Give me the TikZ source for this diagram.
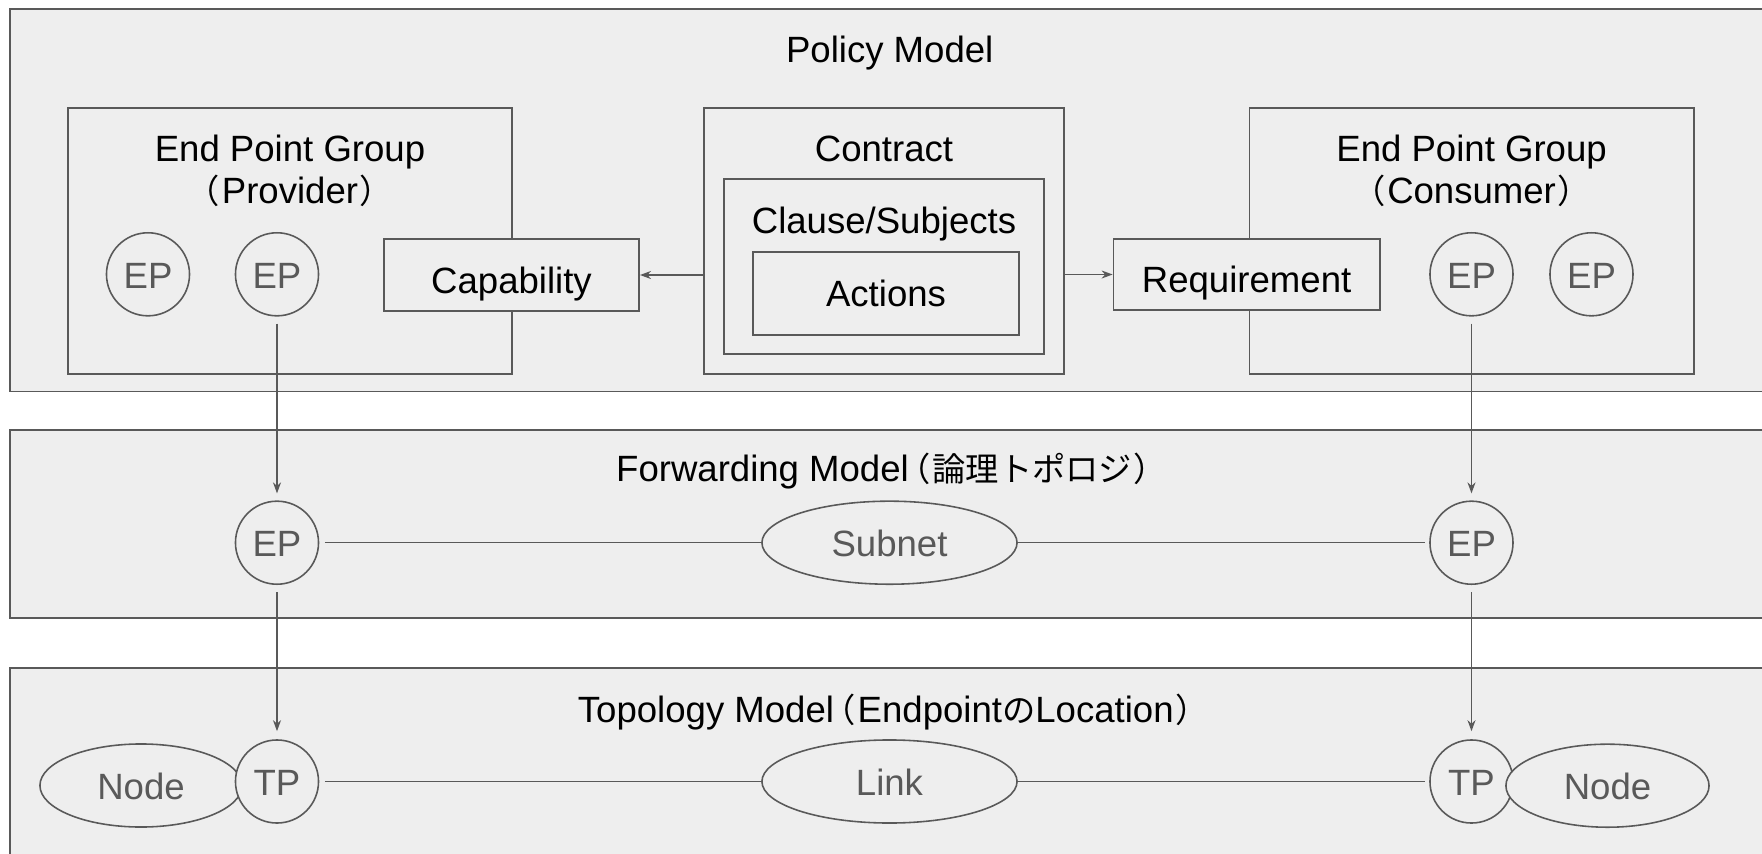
\documentclass[tikz,border=0pt]{standalone}
\usepackage{fontspec}
\setmainfont{Liberation Sans}
\newfontfamily\jpfont[Scale=0.91]{Noto Sans CJK JP}
\newfontfamily\jpnarrow[Scale=0.91,RawFeature={+palt}]{Noto Sans CJK JP}
\newcommand{\jlp}{\kern0.04cm{\jpnarrow （}\kern0.03cm}
\newcommand{\jrp}{\kern0.03cm{\jpnarrow ）}\kern0.04cm}
\usetikzlibrary{arrows.meta,positioning,shapes.geometric}
\definecolor{PanelFill}{HTML}{EEEEEE}
\definecolor{LineGray}{HTML}{595959}
\definecolor{LabelGray}{HTML}{595959}

\begin{document}
\begin{tikzpicture}[x=0.01cm, y=-0.01cm,
    font=\fontsize{10.4}{12.5}\selectfont,
    panel/.style={draw=LineGray, fill=PanelFill, line width=0.55pt},
    title/.style={anchor=base, inner sep=0pt},
    box/.style={draw=LineGray, fill=PanelFill, line width=0.5pt, inner sep=0pt},
    ep/.style={circle, draw=LineGray, fill=PanelFill, line width=0.45pt,
      text=LabelGray, minimum size=0.83cm, inner sep=0pt,
      text height=0.28cm, text depth=0pt},
    oval/.style={ellipse, draw=LineGray, fill=PanelFill, line width=0.45pt,
      text=LabelGray, minimum height=0.83cm, inner sep=0pt,
      text height=0.28cm, text depth=0pt},
    arr/.style={draw=LineGray, line width=0.42pt,
      -{Stealth[length=0.11cm, width=0.08cm, inset=0.035cm]}},
    wire/.style={draw=LineGray, line width=0.45pt}]
        \useasboundingbox (0,0) rectangle (1762,854);
        \clip (0,0) rectangle (1762,854);
        % the three layers, running off the right (and bottom) edge
        \draw[panel] (9.8,8.7) rectangle (1775,391.5);
        \draw[panel] (9.8,430) rectangle (1775,617.7);
        \draw[panel] (9.8,668) rectangle (1775,880);
        \node[title] (policy) at (889.7,62.3) {Policy Model};
        \node[title] (fwd) at (886,481)
          {Forwarding Model\jlp{\jpfont 論理トポロジ}\jrp};
        \node[title] (topo) at (887.6,722.3)
          {Topology Model\jlp Endpoint{\jpfont の}Location\jrp};
        % provider group with its capability
        \node[box, minimum width=4.44cm, minimum height=2.66cm]
          (prov) at (290,241) {};
        \node[title] (provname) at (290,161.7) {End Point Group};
        \node[title] (provrole) at (290,203.3) {\jlp Provider\jrp};
        \node[ep] (ep1) at (148,274.3) {EP};
        \node[ep] (ep2) at (277,274.3) {EP};
        \node[box, minimum width=2.55cm, minimum height=0.72cm,
          text height=0.36cm, text depth=0pt] (cap) at (511.5,275) {Capability};
        % contract, nested boxes
        \node[box, minimum width=3.60cm, minimum height=2.66cm]
          (con) at (883.9,241) {};
        \node[title] (conname) at (884,161.7) {Contract};
        \node[box, minimum width=3.20cm, minimum height=1.75cm]
          (clause) at (883.9,266.4) {};
        \node[title] (clausename) at (884,233.3) {Clause/Subjects};
        \node[box, minimum width=2.66cm, minimum height=0.83cm,
          text height=0.25cm, text depth=0pt] (act) at (886,293.5) {Actions};
        % consumer group with its requirement
        \node[box, minimum width=4.44cm, minimum height=2.66cm]
          (cons) at (1471.6,241) {};
        \node[title] (consname) at (1471.6,161.7) {End Point Group};
        \node[title] (consrole) at (1471.6,203.3) {\jlp Consumer\jrp};
        \node[ep] (ep3) at (1471.5,274.3) {EP};
        \node[ep] (ep4) at (1591.5,274.3) {EP};
        \node[box, minimum width=2.66cm, minimum height=0.71cm,
          text height=0.36cm, text depth=0pt] (req) at (1246.6,274.5) {Requirement};
        \draw[arr] (con.west |- cap.east) -- (cap.east);
        \draw[arr] (con.east |- req.west) -- (req.west);
        % forwarding layer
        \node[ep] (fep1) at (277,542.7) {EP};
        \node[oval, minimum width=2.55cm] (subnet) at (889.5,542.7) {Subnet};
        \node[ep] (fep2) at (1471.5,542.7) {EP};
        \draw[wire, shorten <=0.055cm] (fep1) -- (subnet);
        \draw[wire, shorten >=0.04cm] (subnet) -- (fep2);
        % topology layer
        \node[oval, minimum width=2.02cm] (node1) at (141,785.5) {Node};
        \node[ep] (tp1) at (277,781.5) {TP};
        \node[oval, minimum width=2.55cm] (link) at (889.5,781.5) {Link};
        \node[ep] (tp2) at (1471.5,781.5) {TP};
        \node[oval, minimum width=2.03cm] (node2) at (1607.5,785.7) {Node};
        \draw[wire, shorten <=0.055cm] (tp1) -- (link);
        \draw[wire, shorten >=0.04cm] (link) -- (tp2);
        % mapping between the layers
        \draw[arr, shorten <=0.07cm, shorten >=0.07cm] (ep2) -- (fep1);
        \draw[arr, shorten <=0.07cm, shorten >=0.08cm] (fep1) -- (tp1);
        \draw[arr, shorten <=0.07cm, shorten >=0.07cm] (ep3) -- (fep2);
        \draw[arr, shorten <=0.07cm, shorten >=0.08cm] (fep2) -- (tp2);
      \end{tikzpicture}
\end{document}
